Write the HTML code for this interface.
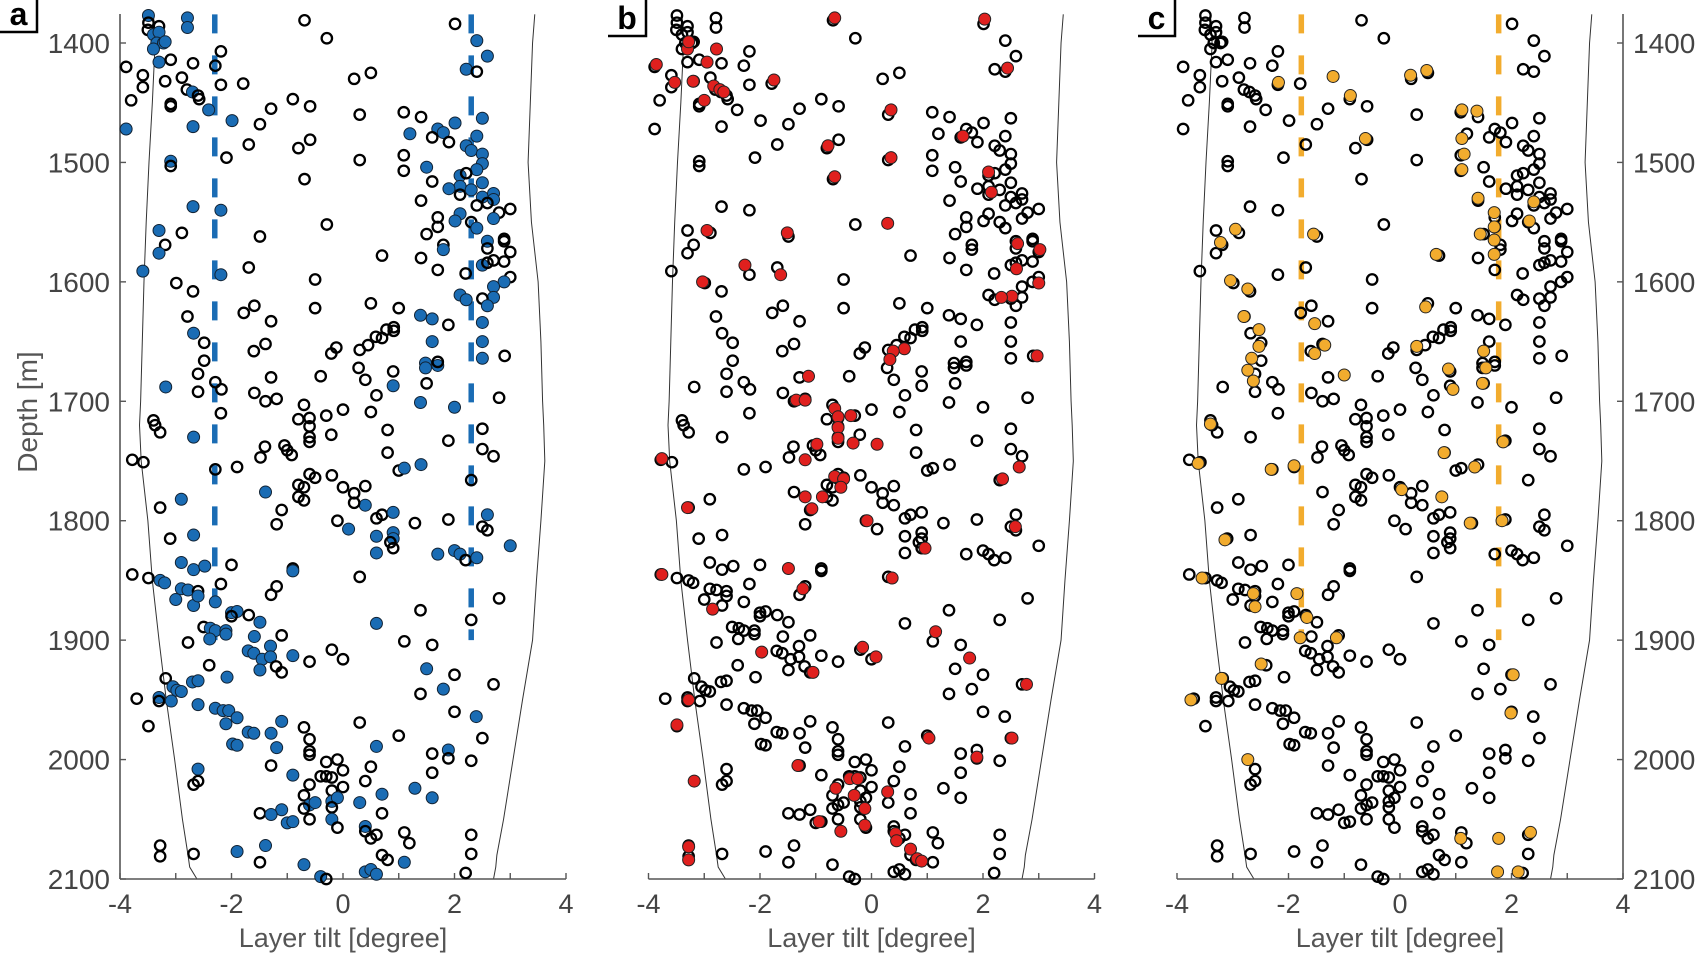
<!DOCTYPE html>
<html><head><meta charset="utf-8">
<style>
html,body{margin:0;padding:0;background:#fff;}
svg{display:block;font-family:"Liberation Sans",sans-serif;}
</style></head>
<body>
<svg id="chart" width="1700" height="955" viewBox="0 0 1700 955" xmlns="http://www.w3.org/2000/svg"></svg>
<script>
// ---- data ----
const xTicks = [-4,-3,-2,-1,0,1,2,3,4];
const xTickLabels = ["-4","","-2","","0","","2","","4"];
const yTicks = [1400,1500,1600,1700,1800,1900,2000,2100];
const panelLetters = ["a","b","c"];
// base points: [tilt, depth, highlighted-in-panel-a]
const basePoints = [
[-3.49,1377,1],[-3.49,1383,0],[-3.50,1389,0],[-3.30,1386,0],[-2.79,1379,1],[-2.79,1387,1],
[-3.40,1393,1],[-3.30,1391,1],[-3.34,1400,1],[-3.22,1400,1],[-3.40,1405,1],[-3.19,1399,1],
[-3.30,1416,1],[-3.09,1414,0],[-0.69,1381,0],[-0.29,1396,0],[2.01,1384,0],[2.40,1398,1],[2.59,1411,1],
[-2.19,1407,0],[-2.29,1419,0],[-3.89,1420,0],[-3.59,1427,0],[-3.59,1437,0],[-3.80,1448,0],
[-3.19,1432,0],[-2.89,1429,0],[-2.69,1417,0],[-2.80,1439,0],[-2.70,1441,1],[-2.60,1444,0],[-2.58,1447,0],
[-3.09,1451,0],[-3.09,1453,0],[-2.19,1435,0],[-1.79,1434,0],[2.21,1422,1],[2.40,1424,0],
[0.20,1430,0],[0.50,1425,0],[-0.90,1447,0],[-0.59,1453,0],[-1.29,1455,0],
[-2.41,1456,1],[-1.99,1465,1],[-1.49,1468,0],[-3.89,1472,1],[-2.69,1470,1],
[0.30,1460,0],[1.09,1458,0],[1.40,1462,0],[2.01,1467,1],[2.50,1463,1],
[1.20,1476,1],[1.70,1472,1],[1.80,1475,1],[1.60,1479,0],[1.90,1483,0],
[2.40,1478,1],[2.21,1486,1],[2.30,1490,1],[2.50,1493,1],[2.50,1501,1],[2.40,1506,1],
[-1.69,1485,0],[-2.09,1496,0],[-0.80,1488,0],[-0.59,1481,0],[0.30,1498,0],[1.09,1494,0],[1.09,1507,0],
[-3.09,1499,1],[-3.09,1503,0],[1.50,1504,1],[1.60,1516,0],[-0.69,1514,0],
[2.10,1511,1],[2.21,1509,0],[2.10,1520,1],[2.10,1527,0],[1.90,1522,1],
[2.50,1517,1],[2.30,1523,1],[2.50,1529,1],[2.70,1526,1],[2.70,1531,1],
[2.40,1536,0],[2.59,1534,0],[2.80,1542,0],[3.00,1539,0],[1.40,1532,0],
[-2.69,1537,1],[-2.19,1540,1],[-3.30,1557,1],[-2.89,1559,0],[-3.19,1569,0],[-3.30,1576,1],
[-1.49,1562,0],[-0.29,1552,0],[1.70,1546,0],[2.10,1543,1],[2.01,1549,1],[2.30,1550,0],[2.40,1555,1],
[1.70,1554,0],[1.50,1560,0],[2.70,1547,1],[2.59,1566,1],[2.59,1572,0],[2.89,1564,0],[2.89,1566,0],
[3.00,1575,0],[1.80,1569,0],[1.80,1573,1],[0.70,1578,0],[1.40,1580,0],[1.70,1590,0],
[2.50,1586,1],[2.70,1582,0],[2.59,1584,0],[2.89,1583,0],[2.20,1593,0],
[-3.59,1591,1],[-2.19,1594,1],[-1.69,1588,0],[-0.50,1598,0],[-2.99,1601,0],[-2.69,1608,0],
[3.00,1596,0],[2.89,1600,1],[2.70,1604,1],[2.70,1613,1],[2.10,1611,1],[2.21,1615,1],[2.50,1614,0],[2.59,1620,1],
[-1.59,1620,0],[0.50,1618,0],[1.00,1622,0],[-0.50,1622,0],
[-1.78,1626,0],[-1.29,1633,0],[-2.79,1629,0],[1.39,1628,1],[1.60,1631,1],[1.89,1636,0],[2.50,1634,1],
[0.91,1638,0],[0.91,1641,0],[0.78,1640,0],[0.59,1646,0],[0.70,1647,0],[0.45,1653,0],[0.30,1657,0],
[-2.68,1643,1],[1.60,1650,1],[2.50,1650,1],[-2.49,1651,0],[-1.39,1652,0],[-1.60,1658,0],[-0.12,1655,0],[-0.21,1660,0],
[2.50,1664,1],[2.90,1662,0],[1.48,1668,1],[1.48,1672,1],[1.70,1670,1],[1.70,1667,0],
[-2.49,1666,0],[-2.60,1677,0],[-1.29,1680,0],[-0.40,1679,0],[0.28,1672,0],[0.40,1682,0],[0.90,1675,0],[1.50,1685,0],
[-2.29,1684,0],[-3.18,1688,1],[-2.60,1692,0],[-2.18,1690,0],[-1.59,1693,0],[-1.39,1700,0],[-1.19,1698,0],
[0.60,1695,0],[0.90,1687,1],[2.80,1697,0],[-2.19,1710,0],[-0.70,1703,0],[0.00,1707,0],[-0.30,1712,0],[0.50,1709,0],
[2.00,1705,1],[1.39,1701,1],[-0.80,1715,0],[-0.60,1714,0],[-0.60,1721,0],[-0.60,1730,0],[-0.60,1734,0],
[-3.40,1716,0],[-3.37,1720,0],[-3.28,1726,0],[-2.68,1730,1],[-0.21,1728,0],[0.80,1724,0],[2.50,1723,0],[1.89,1733,0],
[-1.40,1738,0],[-1.48,1747,0],[-1.05,1737,0],[-1.00,1741,0],[-0.92,1745,0],[0.80,1743,0],[2.50,1740,0],[2.70,1746,0],
[-3.78,1749,0],[-3.58,1751,0],[-1.90,1755,0],[-2.29,1757,0],[-0.60,1761,0],[-0.50,1764,0],[-0.20,1762,0],
[1.00,1758,0],[1.10,1756,1],[1.40,1753,1],[2.30,1766,0],[-0.80,1770,0],[-0.70,1772,0],[-0.80,1780,0],[-0.70,1783,0],
[0.00,1772,0],[0.20,1777,0],[0.40,1771,0],[0.40,1787,1],[0.20,1785,0],[-1.10,1791,0],[-3.28,1789,0],
[-1.39,1776,1],[-2.90,1782,1],[0.60,1798,0],[0.70,1795,0],[0.90,1793,1],[-0.10,1800,0],[0.10,1807,1],
[-1.19,1803,0],[1.29,1802,0],[1.89,1799,0],[2.50,1805,0],[2.59,1808,0],[0.90,1810,1],[0.90,1815,1],
[0.85,1818,0],[0.90,1823,0],[0.60,1813,1],[0.60,1827,1],[3.00,1821,1],[2.59,1795,1],[-2.68,1812,1],[-3.10,1815,0],
[1.70,1828,1],[2.00,1825,1],[2.10,1828,1],[2.20,1833,0],[2.40,1831,1],[-0.90,1840,0],[-0.90,1842,1],[0.30,1847,0],
[-3.78,1845,0],[-3.49,1848,0],[-3.28,1850,1],[-3.20,1852,1],[-2.90,1835,1],[-2.68,1841,1],[-2.48,1838,1],[-2.00,1837,0],
[-2.19,1853,0],[-2.90,1857,1],[-2.78,1858,1],[-2.60,1859,0],[-3.00,1866,1],[-2.68,1871,1],[-2.60,1863,1],[-2.29,1868,1],
[-1.19,1855,0],[-1.29,1862,0],[2.80,1865,0],[1.39,1875,0],[-2.00,1877,1],[-1.90,1876,1],[-2.00,1880,0],[-1.69,1879,0],
[-1.49,1885,1],[0.60,1886,1],[2.30,1883,0],[-2.50,1889,0],[-2.38,1890,1],[-2.29,1892,1],[-2.39,1899,1],[-2.10,1892,1],[-2.10,1895,1],
[-2.78,1902,0],[-1.10,1896,0],[-1.59,1897,1],[1.10,1901,0],[1.60,1904,0],[-1.70,1909,1],[-1.60,1911,1],[-1.30,1905,1],
[-1.45,1916,1],[-1.30,1914,1],[-0.90,1913,1],[-1.20,1922,0],[-1.10,1927,0],[-1.49,1925,1],[-0.20,1908,0],[0.00,1916,0],
[-0.60,1918,0],[-2.40,1921,0],[-2.08,1931,1],[1.50,1924,1],[2.00,1929,0],[2.70,1937,0],[-3.18,1932,0],
[-3.05,1939,1],[-2.98,1942,1],[-2.90,1943,1],[-2.70,1935,1],[-2.60,1934,1],[1.80,1941,1],[1.39,1945,0],
[-3.70,1949,0],[-3.30,1948,1],[-3.30,1951,0],[-3.08,1951,1],[-2.60,1954,1],[-2.29,1957,1],[-2.15,1959,1],[-2.05,1959,1],
[-1.90,1965,1],[-2.10,1970,1],[-3.49,1972,0],[-1.10,1968,1],[-1.70,1977,1],[-1.60,1978,1],[0.30,1969,0],[2.00,1960,0],
[2.39,1964,1],[2.50,1982,0],[1.00,1980,0],[-0.70,1973,0],[-0.60,1983,0],[-0.60,1993,0],[-0.60,1996,0],
[-1.29,1978,1],[-1.98,1987,1],[-1.90,1988,1],[-1.19,1990,1],[0.60,1989,1],[1.89,1992,1],[1.89,1999,0],[1.60,1995,0],
[2.30,2001,0],[-0.30,2002,0],[-0.10,2000,0],[0.00,2009,0],[0.50,2006,0],[-1.29,2005,0],[-2.60,2008,1],
[-2.68,2021,0],[-2.60,2018,0],[-0.90,2013,1],[-0.40,2014,0],[-0.30,2014,0],[-0.20,2015,0],[0.40,2018,0],[1.60,2011,0],
[0.00,2023,0],[-0.20,2026,0],[-0.60,2021,0],[-0.70,2030,0],[1.29,2024,1],[1.60,2032,1],[0.70,2029,1],[0.30,2036,1],
[-0.20,2035,1],[-0.10,2032,1],[-0.60,2038,1],[-0.50,2036,1],[-0.70,2041,0],[-0.20,2040,0],[0.70,2045,0],
[-1.10,2042,1],[-1.49,2045,0],[-1.29,2046,1],[-1.00,2053,1],[-0.90,2052,1],[-0.60,2050,0],[-0.20,2050,1],
[-0.10,2057,0],[0.40,2056,1],[0.40,2060,0],[0.50,2066,0],[0.60,2063,0],[1.10,2061,0],[1.19,2070,0],[2.30,2063,0],[2.30,2079,0],
[-3.28,2072,0],[-3.28,2081,0],[-2.68,2079,0],[-1.90,2077,1],[-1.39,2072,1],[-1.49,2086,0],[0.70,2080,0],[0.80,2084,0],
[-0.70,2088,1],[1.10,2086,1],[0.40,2094,1],[0.50,2092,1],[0.60,2096,1],[-0.40,2098,1],[-0.30,2100,0],[2.20,2095,0]
];
// highlighted points, panel b (red)
const redPoints = [
[-3.30,1405],[-3.28,1399],[-3.86,1418],[-2.95,1416],[-2.78,1405],[-3.53,1433],[-3.20,1432],[-2.83,1436],[-2.72,1439],[-2.65,1441],
[-1.75,1431],[-3.00,1448],[0.35,1456],[-0.66,1379],[2.03,1380],[2.44,1421],[1.64,1478],[-0.78,1486],[-0.66,1512],[0.35,1496],
[2.10,1508],[2.15,1525],[-2.95,1557],[-1.51,1559],[0.29,1551],[-2.27,1586],[-3.03,1600],[-1.63,1594],[2.62,1568],[3.02,1573],
[2.60,1589],[2.52,1612],[2.33,1613],[3.00,1601],[2.97,1662],[0.59,1656],[0.39,1658],[0.33,1665],[-1.13,1679],[-1.35,1699],
[-1.19,1699],[-0.66,1706],[-0.60,1713],[-0.37,1712],[-0.60,1722],[-0.60,1731],[-0.98,1736],[-0.33,1735],[0.10,1736],[-1.19,1749],
[-0.66,1763],[-0.50,1765],[-0.55,1772],[-0.88,1780],[-1.19,1780],[-1.07,1790],[-0.08,1800],[0.96,1823],[2.35,1765],[2.65,1755],
[2.58,1805],[-3.76,1748],[-3.30,1789],[-3.76,1845],[-2.85,1874],[-1.49,1840],[-1.23,1857],[0.37,1848],[-0.16,1906],[1.15,1893],
[1.76,1915],[0.08,1914],[-1.97,1910],[-1.05,1927],[-3.28,1950],[-3.49,1971],[2.78,1937],[2.52,1982],[1.03,1982],[1.89,1998],
[0.29,2027],[-3.18,2018],[-1.32,2005],[-0.39,2016],[-0.25,2016],[-0.64,2024],[-0.31,2030],[-0.94,2052],[-0.55,2060],[-0.12,2041],
[-0.12,2055],[0.43,2062],[0.45,2068],[0.70,2075],[0.82,2083],[0.90,2085],[-3.28,2073],[-3.28,2084]
];
// highlighted points, panel c (orange)
const orangePoints = [
[-2.18,1433],[-1.20,1428],[0.19,1427],[0.48,1423],[-0.89,1444],[1.11,1456],[1.38,1457],[-0.62,1480],[1.11,1480],[1.15,1493],
[1.11,1506],[1.40,1530],[2.40,1533],[2.32,1549],[1.69,1542],[1.69,1554],[1.44,1560],[1.69,1565],[1.69,1577],[0.65,1577],
[-2.95,1556],[-3.22,1567],[-1.55,1560],[-3.04,1599],[-2.73,1606],[-2.80,1629],[-2.53,1640],[-2.53,1654],[-2.66,1664],[-2.73,1674],
[-2.63,1683],[-1.53,1635],[-1.35,1653],[-1.53,1660],[-1.00,1678],[0.30,1654],[0.46,1621],[0.87,1673],[0.95,1690],[1.54,1672],
[1.50,1658],[1.48,1685],[1.85,1734],[-3.40,1719],[-3.62,1752],[-2.31,1757],[-1.90,1754],[0.03,1774],[0.75,1780],[0.79,1743],
[1.34,1755],[1.26,1802],[1.83,1800],[-3.14,1816],[-3.55,1848],[-2.63,1861],[-2.60,1872],[-1.85,1861],[-1.67,1881],[-1.79,1898],
[-1.14,1898],[-2.49,1920],[2.03,1929],[-3.20,1932],[-3.75,1950],[1.99,1961],[-2.73,2000],[1.09,2066],[1.77,2066],[1.75,2094],
[2.34,2061],[2.12,2094]
];
// envelope lines
const envDepth = [1376,1400,1450,1500,1550,1600,1650,1700,1720,1750,1800,1850,1900,1950,2000,2050,2080,2090,2100];
const envLeft  = [-3.40,-3.37,-3.42,-3.48,-3.53,-3.57,-3.60,-3.63,-3.65,-3.62,-3.50,-3.42,-3.30,-3.17,-3.02,-2.88,-2.78,-2.75,-2.62];
const envRight = [3.44,3.40,3.36,3.32,3.38,3.50,3.55,3.58,3.60,3.62,3.55,3.47,3.40,3.22,3.05,2.88,2.76,2.74,2.70];
const dashA = [-2.3, 2.3];
const dashC = [-1.77, 1.77];
const dashDepth = [1376, 1900];

// ---- layout ----
const NS="http://www.w3.org/2000/svg";
const svg=document.getElementById('chart');
const panelX0=[120,648.5,1177];
const PW=446, YT=14, YB=879;
const D0=1376, D1=2100;
function mk(tag,attrs,parent){const e=document.createElementNS(NS,tag);for(const k in attrs)e.setAttribute(k,attrs[k]);(parent||svg).appendChild(e);return e;}
function yScale(d){return 43+(d-1400)*(YB-43)/700;}

panelX0.forEach((x0,pi)=>{
  const xs=t=>x0+(t+4)*PW/8;
  const g=mk('g',{});
  
  
  // envelope
  const pl=mk('path',{d:'M'+envDepth.map((d,i)=>xs(envLeft[i])+','+yScale(d)).join('L'),fill:'none',stroke:'#333','stroke-width':1},g);
  
  
  const pr=mk('path',{d:'M'+envDepth.map((d,i)=>xs(envRight[i])+','+yScale(d)).join('L'),fill:'none',stroke:'#333','stroke-width':1},g);
  
  
  // x axis
  const ax=mk('line',{x1:x0,x2:x0+PW,y1:YB,y2:YB,stroke:'#555','stroke-width':1.6},g);
  
  
  xTicks.forEach((t,i)=>{
    mk('line',{x1:xs(t),x2:xs(t),y1:YB,y2:YB-6,stroke:'#555','stroke-width':1.4},g);
    if(xTickLabels[i]){
      const tl=mk('text',{x:xs(t),y:913,'text-anchor':'middle','font-size':27,fill:'#444'},g);
      tl.textContent=xTickLabels[i];
      
      
    }
  });
  const xl=mk('text',{x:x0+PW/2,y:947,'text-anchor':'middle','font-size':27,fill:'#555'},g);
  xl.textContent='Layer tilt [degree]';
  
  
  // y axis
  if(pi!==1){
    const axx=pi===0?x0:x0+PW;
    const ya=mk('line',{x1:axx,x2:axx,y1:YT,y2:YB,stroke:'#555','stroke-width':1.6},g);
    
    
    yTicks.forEach(d=>{
      const dir=pi===0?1:-1;
      mk('line',{x1:axx,x2:axx+dir*6,y1:yScale(d),y2:yScale(d),stroke:'#555','stroke-width':1.4},g);
      const tl=mk('text',{x:pi===0?axx-10:axx+10,y:yScale(d)+10,'text-anchor':pi===0?'end':'start','font-size':28,fill:'#444'},g);
      tl.textContent=d;
      
      
    });
  }
  // dashed lines
  const dl=pi===0?dashA:(pi===2?dashC:[]);
  const dc=pi===0?'#1a6cb4':'#f2ac2e';
  dl.forEach(t=>{
    const l=mk('line',{x1:xs(t),x2:xs(t),y1:yScale(dashDepth[0]),y2:yScale(dashDepth[1]),stroke:dc,'stroke-width':5.5,'stroke-dasharray':'19 22'},g);
    
    
  });
  // points
  basePoints.forEach(p=>{
    const hl=pi===0&&p[2]===1;
    const c=mk('circle',{cx:xs(p[0]),cy:yScale(p[1]),r:hl?6:5.2,fill:hl?'#1a6cb4':'none',stroke:hl?'#123':'#000','stroke-width':hl?1:2.3},g);
    
    
  });
  const ov=pi===1?redPoints:(pi===2?orangePoints:[]);
  const oc=pi===1?'#e0201e':'#f2ac2e';
  ov.forEach(p=>{
    const c=mk('circle',{cx:xs(p[0]),cy:yScale(p[1]),r:6,fill:oc,stroke:'#222','stroke-width':1},g);
    
    
  });
});
// panel letters
const letterBoxes=[[0,37,32],[608,646,36],[1138,1175,36]];
letterBoxes.forEach((b,i)=>{
  const g=mk('g',{});
  
  
  mk('rect',{x:b[0],y:-2,width:b[1]-b[0],height:b[2]+2,fill:'#fff'},g);
  mk('path',{d:`M${b[0]},${b[2]}L${b[1]},${b[2]}L${b[1]},0`,fill:'none',stroke:'#000','stroke-width':2.5},g);
  const t=mk('text',{x:(b[0]+b[1])/2,y:b[2]-7,'text-anchor':'middle','font-size':32,'font-weight':'bold',fill:'#000'},g);
  t.textContent=panelLetters[i];
});
const yl=mk('text',{x:0,y:0,transform:'translate(37,412) rotate(-90)','text-anchor':'middle','font-size':28,fill:'#555'});
yl.textContent='Depth [m]';


</script>
</body></html>
